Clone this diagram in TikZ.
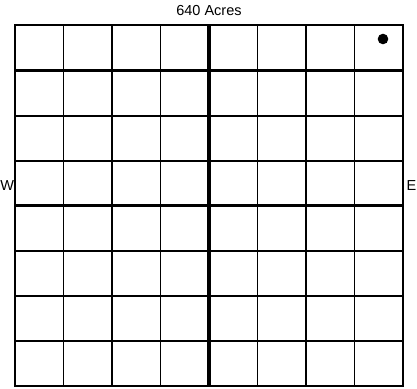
\documentclass[tikz,border=0pt]{standalone}
\usepackage{fontspec}
\setmainfont{Liberation Sans}
\begin{document}
\begin{tikzpicture}[x=1pt,y=-1pt,
  thinline/.style={line width=1.2pt},
  rowline/.style={line width=2.2pt},
  midline/.style={line width=3.6pt},
  border/.style={line width=2.6pt},
  lbl/.style={font=\fontsize{14.5}{16}\selectfont, inner sep=0pt}]
\useasboundingbox (0,0) rectangle (417,388);
% inner vertical lines
\foreach \x in {63.5,112,160.5,257.5,306,354.5}
  \draw[thinline] (\x,25) -- (\x,386);
% inner horizontal lines
\foreach \y in {70.5,116,161,251,296,341}
  \draw[rowline] (15,\y) -- (403,\y);
% center lines
\draw[midline] (209,25) -- (209,386);
\draw[midline] (15,205.5) -- (403,205.5);
% border
\draw[border] (15,25) rectangle (403,386);
% dot
\fill (383,39) circle (5.3);
% labels
\node[lbl] (title) at (209,11) {640 Acres};
\node[lbl,anchor=west] (w) at (0.3,186) {W};
\node[lbl,anchor=east] (e) at (416.5,186) {E};
\end{tikzpicture}
\end{document}
